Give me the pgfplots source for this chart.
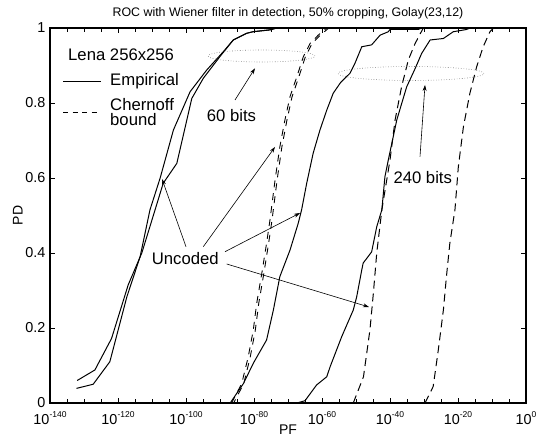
\documentclass[border=0pt]{standalone}
\usepackage{fontspec}
\setmainfont{Liberation Sans}
\usepackage{pgfplots}
\pgfplotsset{compat=1.18}
\usetikzlibrary{arrows.meta}
% exponent labels like MATLAB: 10 with a small raised power
\newcommand\ep[1]{10\raisebox{0.42em}{\fontsize{8.5}{8.5}\selectfont #1}}
\newcommand\annfont{\fontsize{16.7}{18}\selectfont}

\begin{document}
\begin{tikzpicture}
\useasboundingbox (0pt,0pt) rectangle (538pt,438pt);
\begin{axis}[
    at={(50pt,35pt)}, anchor=south west,
    scale only axis, width=476pt, height=375pt,
    xmin=-140, xmax=0, ymin=0, ymax=1,
    xtick={-140,-120,...,0},
    minor xtick={-135,-130,...,-5},
    xticklabels={\ep{-140},\ep{-120},\ep{-100},\ep{-80},\ep{-60},\ep{-40},\ep{-20},\ep{0}},
    ytick={0,0.2,0.4,0.6,0.8,1},
    yticklabels={0,0.2,0.4,0.6,0.8,1},
    xticklabel pos=lower, yticklabel pos=left,
    xtick pos=both, ytick pos=both,
    tick align=inside,
    major tick length=5pt, minor tick length=4pt,
    tick style={black, line width=0.6pt},
    axis line style={line width=1.1pt},
    ticklabel style={font=\fontsize{14.4}{14.4}\selectfont},
    xticklabel style={yshift=-5.5pt},
    yticklabel style={xshift=-1pt},
    xlabel={PF}, ylabel={PD},
    label style={font=\fontsize{14}{14}\selectfont},
    xlabel style={yshift=6.5pt},
    ylabel style={yshift=-4pt},
    clip=false,
]
% left solid pair (uncoded and 60 bits, empirical)
\addplot[black, line width=1pt] coordinates {
 (-132,0.060) (-126.8,0.088) (-121.9,0.172) (-117,0.315) (-113,0.400)
 (-109.1,0.515) (-106.7,0.586) (-102.7,0.639) (-98.3,0.812) (-94.9,0.866)
 (-90,0.924) (-86.1,0.968) (-82.1,0.986) (-80.3,0.990) (-75.3,0.995) (-73.3,1) (0,1)};
\addplot[black, line width=1pt] coordinates {
 (-132.2,0.039) (-127.3,0.050) (-122.4,0.110) (-117.4,0.283) (-113.5,0.390)
 (-110.6,0.515) (-107.6,0.600) (-103.7,0.728) (-98.8,0.830) (-93.9,0.888)
 (-89,0.937) (-86.1,0.968) (-82.1,0.986) (-80.3,0.990) (-75.3,0.995) (-73.3,1) (0,1)};
% dashed pair (Chernoff bound, uncoded and 60 bits)
\addplot[black, line width=0.9pt, dash pattern=on 7pt off 6pt] coordinates {
 (-86.6,0) (-83.6,0.052) (-81.7,0.123) (-80.2,0.195) (-79.2,0.266) (-77.7,0.346)
 (-76.3,0.426) (-75.3,0.488) (-73.8,0.595) (-72.4,0.683) (-70.9,0.755)
 (-69.4,0.817) (-67.4,0.870) (-65.5,0.923) (-63.5,0.959) (-61.1,0.981) (-58.6,1) (0,1)};
\addplot[black, line width=0.9pt, dash pattern=on 7pt off 6pt, dash phase=3pt] coordinates {
 (-86.0,0) (-83.0,0.052) (-81.1,0.123) (-79.6,0.195) (-78.6,0.266) (-77.1,0.346)
 (-75.7,0.426) (-74.7,0.488) (-73.2,0.595) (-71.8,0.683) (-70.3,0.755)
 (-68.8,0.817) (-66.8,0.870) (-64.9,0.923) (-62.9,0.959) (-60.5,0.981) (-58.0,1) (0,1)};
% middle solid (uncoded empirical)
\addplot[black, line width=1pt] coordinates {
 (-87,0) (-83.1,0.052) (-80.2,0.106) (-76.3,0.168) (-74.3,0.248) (-72.4,0.337)
 (-69.4,0.408) (-67,0.479) (-66,0.515) (-64.5,0.586) (-62.6,0.666) (-60.6,0.728)
 (-58.6,0.781) (-56.7,0.826) (-54.5,0.855) (-51.8,0.879) (-50.3,0.906) (-48.3,0.950)
 (-45.4,0.955) (-42.9,0.981) (-40.5,0.990) (-40,0.996) (-31.7,0.996) (-30.7,1) (0,1)};
% dashed (uncoded Chernoff)
\addplot[black, line width=1pt, dash pattern=on 8pt off 5pt] coordinates {
 (-50.8,0) (-47.8,0.070) (-45.9,0.195) (-44.9,0.292) (-43.9,0.400) (-42.4,0.515)
 (-40,0.648) (-38.5,0.755) (-36.6,0.843) (-34.6,0.915) (-32.6,0.959) (-30.2,1) (0,1)};
% solid (240 bits empirical)
\addplot[black, line width=1pt] coordinates {
 (-67.4,0) (-65,0.006) (-61.6,0.048) (-58.6,0.070) (-57.6,0.097) (-54.2,0.177)
 (-50.8,0.248) (-49.8,0.283) (-48.3,0.355) (-47.9,0.373) (-45.4,0.403) (-43.9,0.470)
 (-42.4,0.515) (-41.5,0.603) (-40.5,0.648) (-38,0.755) (-35.1,0.843) (-32.6,0.892)
 (-30.7,0.932) (-28.2,0.968) (-24.3,0.972) (-21.4,0.990) (-17.5,0.996) (-16.5,1) (0,1)};
% dashed (240 bits Chernoff)
\addplot[black, line width=1pt, dash pattern=on 8pt off 5pt] coordinates {
 (-29.7,0) (-27.3,0.044) (-25.8,0.141) (-24.3,0.248) (-23.4,0.337) (-22.4,0.426)
 (-20.9,0.515) (-19.9,0.630) (-18.4,0.737) (-16.5,0.826) (-14.5,0.897)
 (-12.6,0.950) (-10.6,0.990) (-9.5,1) (0,1)};
\end{axis}
% title
\node[font=\fontsize{12.4}{14}\selectfont] at (288pt,425pt)
  {ROC with Wiener filter in detection, 50\% cropping, Golay(23,12)};
% legend drawn by hand, no box
\node[anchor=base west, font=\annfont, inner sep=0pt] at (68pt,377.3pt) {Lena 256x256};
\draw[black, line width=0.8pt] (63pt,356.3pt) -- (101pt,356.3pt);
\node[anchor=base west, font=\annfont, inner sep=0pt] at (110pt,352.3pt) {Empirical};
\draw[black, line width=0.8pt, dash pattern=on 5pt off 4.5pt] (63pt,325.3pt) -- (101pt,325.3pt);
\node[anchor=base west, font=\annfont, inner sep=0pt] at (110pt,327.3pt) {Chernoff};
\node[anchor=base west, font=\annfont, inner sep=0pt] at (110pt,312pt) {bound};
% ellipses around the coded curves
\draw[black!55, line width=0.6pt, dotted] (261.5pt,382pt) ellipse [x radius=53.5pt, y radius=6pt];
\draw[black!55, line width=0.6pt, dotted] (411pt,364.5pt) ellipse [x radius=73pt, y radius=7pt];
% annotations
\node[anchor=base west, font=\annfont, inner sep=0pt] at (206.7pt,316.3pt) {60 bits};
\node[anchor=base west, font=\annfont, inner sep=0pt] at (393.3pt,254.7pt) {240 bits};
\node[anchor=base west, font=\annfont, inner sep=0pt] at (151.7pt,173pt) {Uncoded};
\tikzset{ann/.style={black, line width=0.6pt, -{Stealth[length=6pt,width=4pt]}}}
\draw[ann] (235pt,338pt) -- (255pt,369.7pt);
\draw[ann] (420pt,281.3pt) -- (425pt,353pt);
\draw[ann] (186pt,191.3pt) -- (162pt,259pt);
\draw[ann] (203.3pt,191.3pt) -- (275pt,291pt);
\draw[ann] (225pt,186.3pt) -- (300pt,225pt);
\draw[ann] (226.7pt,174pt) -- (369pt,131pt);
\end{tikzpicture}
\end{document}
